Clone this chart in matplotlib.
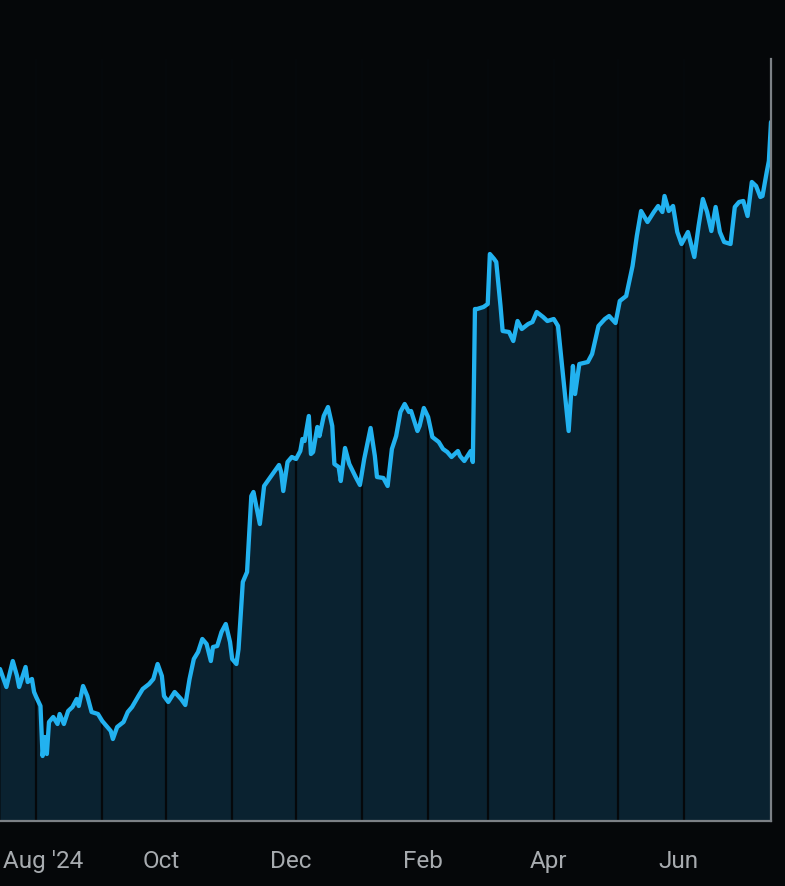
import numpy as np
import pandas as pd
import matplotlib
matplotlib.use("Agg")
import matplotlib.pyplot as plt
from matplotlib.transforms import ScaledTranslation

# daily closes (arbitrary price units, y axis is hidden)
dates = [
    "2024-07-15", "2024-07-18", "2024-07-21", "2024-07-23", "2024-07-24", "2024-07-27",
    "2024-07-28", "2024-07-30", "2024-07-31", "2024-08-01", "2024-08-03", "2024-08-04",
    "2024-08-05", "2024-08-06", "2024-08-07", "2024-08-09", "2024-08-11", "2024-08-12",
    "2024-08-14", "2024-08-16", "2024-08-18", "2024-08-20", "2024-08-21", "2024-08-23",
    "2024-08-25", "2024-08-27", "2024-08-30", "2024-09-01", "2024-09-05", "2024-09-06",
    "2024-09-08", "2024-09-11", "2024-09-13", "2024-09-15", "2024-09-18", "2024-09-20",
    "2024-09-23", "2024-09-25", "2024-09-27", "2024-09-29", "2024-09-30", "2024-10-02",
    "2024-10-05", "2024-10-08", "2024-10-10", "2024-10-12", "2024-10-14", "2024-10-16",
    "2024-10-18", "2024-10-20", "2024-10-22", "2024-10-23", "2024-10-25", "2024-10-27",
    "2024-10-29", "2024-10-31", "2024-11-01", "2024-11-03", "2024-11-04", "2024-11-06",
    "2024-11-08", "2024-11-10", "2024-11-11", "2024-11-14", "2024-11-16", "2024-11-19",
    "2024-11-21", "2024-11-23", "2024-11-24", "2024-11-25", "2024-11-27", "2024-11-29",
    "2024-12-01", "2024-12-03", "2024-12-04", "2024-12-05", "2024-12-07", "2024-12-08",
    "2024-12-09", "2024-12-11", "2024-12-12", "2024-12-14", "2024-12-16", "2024-12-18",
    "2024-12-19", "2024-12-21", "2024-12-22", "2024-12-24", "2024-12-26", "2024-12-29",
    "2024-12-31", "2025-01-02", "2025-01-05", "2025-01-07", "2025-01-08", "2025-01-11",
    "2025-01-13", "2025-01-15", "2025-01-17", "2025-01-19", "2025-01-21", "2025-01-23",
    "2025-01-24", "2025-01-27", "2025-01-28", "2025-01-30", "2025-02-01", "2025-02-03",
    "2025-02-06", "2025-02-08", "2025-02-10", "2025-02-12", "2025-02-15", "2025-02-16",
    "2025-02-18", "2025-02-21", "2025-02-22", "2025-02-23", "2025-02-24", "2025-02-27",
    "2025-03-01", "2025-03-02", "2025-03-04", "2025-03-05", "2025-03-07", "2025-03-08",
    "2025-03-11", "2025-03-13", "2025-03-15", "2025-03-17", "2025-03-20", "2025-03-22",
    "2025-03-24", "2025-03-27", "2025-03-29", "2025-04-01", "2025-04-03", "2025-04-08",
    "2025-04-10", "2025-04-11", "2025-04-13", "2025-04-17", "2025-04-19", "2025-04-22",
    "2025-04-25", "2025-04-27", "2025-04-30", "2025-05-02", "2025-05-05", "2025-05-08",
    "2025-05-10", "2025-05-12", "2025-05-15", "2025-05-18", "2025-05-20", "2025-05-22",
    "2025-05-23", "2025-05-25", "2025-05-27", "2025-05-29", "2025-05-31", "2025-06-03",
    "2025-06-06", "2025-06-08", "2025-06-10", "2025-06-12", "2025-06-14", "2025-06-16",
    "2025-06-18", "2025-06-20", "2025-06-23", "2025-06-25", "2025-06-27", "2025-06-29",
    "2025-07-01", "2025-07-03", "2025-07-05", "2025-07-07", "2025-07-08", "2025-07-10",
    "2025-07-11", "2025-07-12",
]
prices = [
    46.0, 42.4, 47.6, 44.6, 42.4, 46.4, 43.4, 44.0, 41.4, 40.4, 38.6, 28.6,
    32.4, 29.0, 35.4, 36.4, 35.0, 37.0, 35.0, 37.6, 38.4, 40.0, 38.6, 42.6,
    40.6, 37.4, 37.0, 35.6, 33.6, 32.0, 34.4, 35.4, 37.4, 38.4, 40.6, 42.0,
    43.0, 44.0, 47.0, 44.6, 40.6, 39.4, 41.4, 40.0, 38.8, 44.0, 48.0, 49.4,
    52.0, 51.0, 47.6, 50.4, 50.6, 53.4, 55.0, 51.4, 48.0, 47.0, 50.0, 63.4,
    65.4, 80.6, 81.4, 75.0, 82.6, 84.4, 85.6, 86.8, 85.4, 81.6, 87.4, 88.4,
    88.0, 89.6, 92.0, 91.6, 96.6, 89.0, 89.4, 94.4, 92.6, 96.6, 98.4, 94.6,
    87.0, 86.4, 83.6, 90.2, 87.0, 84.4, 82.8, 88.0, 94.2, 88.6, 84.4, 84.2,
    82.6, 90.0, 92.6, 97.4, 99.0, 97.4, 97.6, 93.6, 94.6, 98.2, 96.4, 92.4,
    91.4, 90.0, 89.4, 88.4, 89.6, 88.6, 87.6, 89.6, 87.4, 118.0, 118.0, 118.4,
    119.0, 129.0, 128.0, 127.4, 118.6, 113.6, 113.4, 111.6, 115.6, 114.0, 115.0, 115.4,
    117.4, 116.4, 115.6, 116.0, 114.6, 93.6, 106.6, 101.0, 107.0, 107.4, 109.0, 114.6,
    116.0, 116.6, 115.2, 119.6, 120.6, 126.6, 132.6, 137.6, 135.4, 137.4, 138.6, 137.4,
    140.6, 137.6, 138.6, 133.4, 131.0, 133.4, 128.4, 134.6, 140.0, 137.4, 133.6, 138.4,
    133.4, 131.4, 131.0, 138.4, 139.4, 139.6, 136.6, 143.4, 142.6, 140.4, 140.6, 145.4,
    147.6, 155.4,
]
month_lines = ["2024-08-01", "2024-09-01", "2024-10-01", "2024-11-01", "2024-12-01",
               "2025-01-01", "2025-02-01", "2025-03-01", "2025-04-01", "2025-05-01",
               "2025-06-01"]
tick_dates = ["2024-08-01", "2024-10-01", "2024-12-01", "2025-02-01", "2025-04-01", "2025-06-01"]
tick_labels = ["Aug '24", "Oct", "Dec", "Feb", "Apr", "Jun"]

bg = "#050709"
line_color = "#22b2f0"
fill_color = "#0a2230"
grid_color = "#05080b"
axis_color = "#7c8186"

x = pd.to_datetime(dates)
y = np.array(prices)
y_min, y_max = 15.6, 168.0

fig = plt.figure(figsize=(7.85, 8.87), dpi=100, facecolor=bg)
ax = fig.add_axes([0, 65 / 887, 771 / 785, 762 / 887])
ax.set_facecolor(bg)

ax.fill_between(x, y, y_min, color=fill_color, lw=0, zorder=1)
for d in pd.to_datetime(month_lines):
    ax.axvline(d, color=grid_color, lw=1.6, zorder=2)
ax.plot(x, y, color=line_color, lw=3.1, solid_joinstyle="round", solid_capstyle="round", zorder=3)

ax.set_xlim(pd.Timestamp("2024-07-15"), pd.Timestamp("2025-07-12"))
ax.set_ylim(y_min, y_max)

for side in ["top", "left"]:
    ax.spines[side].set_visible(False)
for side in ["bottom", "right"]:
    ax.spines[side].set_color(axis_color)
    ax.spines[side].set_linewidth(1.6)
    ax.spines[side].set_zorder(4)

ax.set_yticks([])
ax.set_xticks(pd.to_datetime(tick_dates))
ax.set_xticklabels(tick_labels, fontfamily="Roboto", fontsize=17.5, color="#a7abaf")
ax.tick_params(axis="x", length=0, pad=20)

# labels sit a little left of their month line; the first one is pushed inside the frame
for i, lab in enumerate(ax.get_xticklabels()):
    if i == 0:
        lab.set_ha("left")
        shift = -33 / 100
    else:
        shift = -5 / 100
    lab.set_transform(lab.get_transform() + ScaledTranslation(shift, 0, fig.dpi_scale_trans))

fig.savefig("out.png", dpi=100, facecolor=bg)
